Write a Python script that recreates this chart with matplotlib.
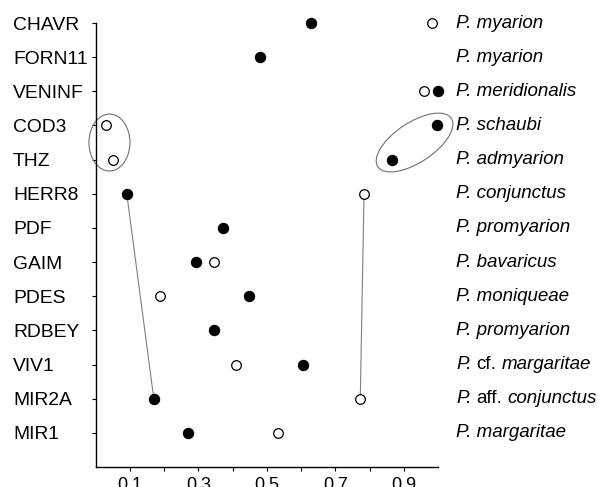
import numpy as np
import matplotlib
matplotlib.use("Agg")
import matplotlib.pyplot as plt
from matplotlib.patches import Ellipse
from matplotlib.transforms import ScaledTranslation, blended_transform_factory

plt.rcParams['font.family'] = ['Liberation Sans', 'DejaVu Sans']

# ---- data ----
sites = ["CHAVR", "FORN11", "VENINF", "COD3", "THZ", "HERR8", "PDF",
         "GAIM", "PDES", "RDBEY", "VIV1", "MIR2A", "MIR1"]
filled_vals = [0.630, 0.479, 0.999, 0.997, 0.866, 0.091, 0.371,
               0.292, 0.447, 0.345, 0.607, 0.170, 0.269]
open_vals = [0.982, np.nan, 0.959, 0.030, 0.051, 0.784, np.nan,
             0.345, 0.187, np.nan, 0.409, 0.773, 0.534]
qualifiers = ["", "", "", "", "", "", "", "", "", "", "cf.", "aff.", ""]
species = ["myarion", "myarion", "meridionalis", "schaubi", "admyarion",
           "conjunctus", "promyarion", "bavaricus", "moniqueae", "promyarion",
           "margaritae", "conjunctus", "margaritae"]
xticks = [0.1, 0.2, 0.3, 0.4, 0.5, 0.6, 0.7, 0.8, 0.9]
xticklabels = ["0.1", "", "0.3", "", "0.5", "", "0.7", "", "0.9"]
link_from, link_to = "HERR8", "MIR2A"
groups = [(["COD3", "THZ"], "open"), (["COD3", "THZ"], "filled")]

W, H, DPI = 604, 487, 100
fig = plt.figure(figsize=(W / DPI, H / DPI), dpi=DPI)
ax = fig.add_axes([95.6 / W, 1 - 467 / H, (438 - 95.6) / W, (467 - 23) / H])

rows = np.arange(len(sites))
ax.set_xlim(0, 1.0)
ax.set_ylim(len(sites), 0)

i0, i1 = sites.index(link_from), sites.index(link_to)
ax.plot([filled_vals[i0], filled_vals[i1]], [rows[i0], rows[i1]],
        color='#808080', lw=0.8, zorder=1)
ax.plot([open_vals[i0], open_vals[i1]], [rows[i0], rows[i1]],
        color='#808080', lw=0.8, zorder=1)

ax.scatter(filled_vals, rows, s=52, color='black', zorder=3, clip_on=False)
ax.scatter(open_vals, rows, s=48, facecolor='white', edgecolor='black',
           linewidths=0.9, zorder=3, clip_on=False)

ell_specs = [(41, 57, 0), (88, 40, 33.4)]
for (grp, series), (ew, eh, ang) in zip(groups, ell_specs):
    idx = [sites.index(s) for s in grp]
    vals = filled_vals if series == "filled" else open_vals
    cx = np.mean([vals[i] for i in idx])
    cy = np.mean([rows[i] for i in idx])
    tr = fig.dpi_scale_trans + ScaledTranslation(cx, cy, ax.transData)
    e = Ellipse((0, 0), ew / DPI, eh / DPI, angle=ang, transform=tr,
                fill=False, edgecolor='#707070', lw=0.8, zorder=2, clip_on=False)
    ax.add_artist(e)

for s in ['top', 'right']:
    ax.spines[s].set_visible(False)
for s in ['left', 'bottom']:
    ax.spines[s].set_linewidth(1.0)

ax.set_xticks(xticks)
ax.set_xticklabels(xticklabels, fontsize=13)
ax.tick_params(axis='x', direction='out', length=3, width=0.8, pad=4)

ax.set_yticks(rows)
ax.set_yticklabels(sites, fontsize=13.9, ha='left')
ax.tick_params(axis='y', direction='out', length=3, width=0.8,
               pad=(95.6 - 13) * 72 / DPI - 3)

trans = blended_transform_factory(ax.transAxes, ax.transData)
FS = 13.5
space_pt = 0.278 * FS
for r, q, sp in zip(rows, qualifiers, species):
    if q:
        t1 = ax.text(1.053, r, "P.", transform=trans, fontsize=FS,
                     style='italic', ha='left', va='center')
        t2 = ax.annotate(q, xy=(1, 0), xycoords=t1, xytext=(space_pt, 0),
                         textcoords='offset points', fontsize=FS,
                         ha='left', va='bottom')
        ax.annotate(sp, xy=(1, 0), xycoords=t2, xytext=(space_pt, 0),
                    textcoords='offset points', fontsize=FS, style='italic',
                    ha='left', va='bottom', annotation_clip=False)
    else:
        ax.text(1.053, r, "P. " + sp, transform=trans, fontsize=FS,
                style='italic', ha='left', va='center')

fig.savefig("out.png", dpi=DPI)
